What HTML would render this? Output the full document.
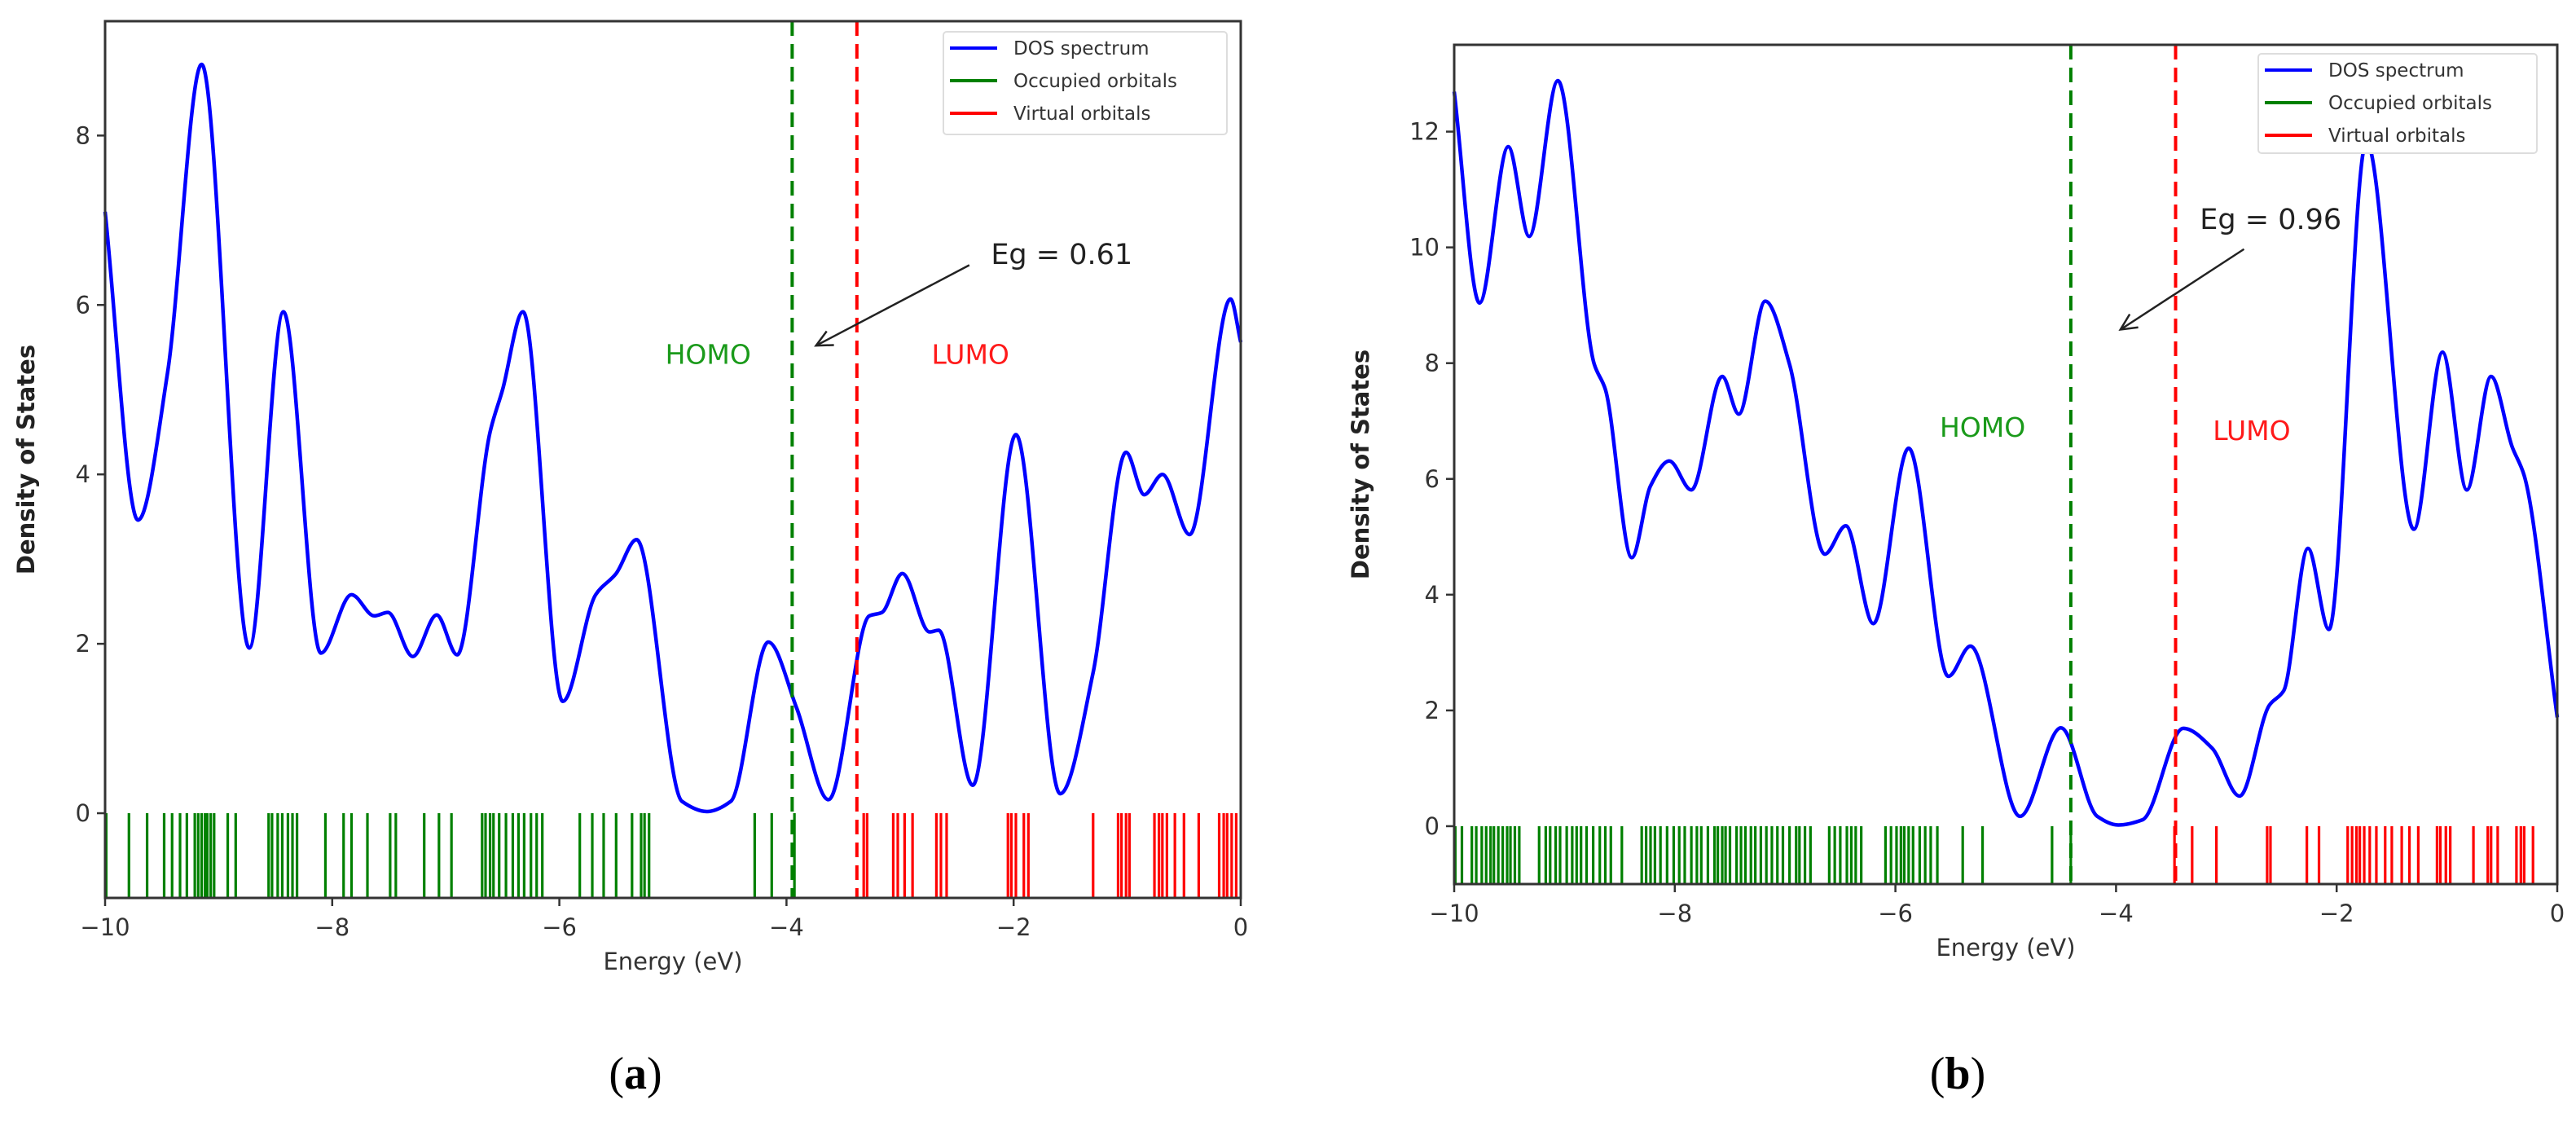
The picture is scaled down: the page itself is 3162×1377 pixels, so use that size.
<!DOCTYPE html>
<html><head><meta charset="utf-8"><style>
html,body{margin:0;padding:0;background:#fff;}
svg{display:block;font-family:"DejaVu Sans","Liberation Sans",sans-serif;}
</style></head><body>
<svg id="fig" width="3162" height="1377" viewBox="0 0 3162 1377" xmlns="http://www.w3.org/2000/svg"></svg>
<script>
// ---- Panel (a) data ----
const aCurveE = [-10,-9.71,-9.45,-9.15,-8.73,-8.43,-8.10,-7.83,-7.63,-7.51,-7.29,-7.08,-6.90,-6.61,-6.50,-6.32,-5.97,-5.68,-5.50,-5.32,-4.92,-4.70,-4.49,-4.16,-3.91,-3.63,-3.27,-3.16,-2.98,-2.74,-2.66,-2.36,-1.98,-1.59,-1.30,-1.01,-0.85,-0.69,-0.45,-0.09,0];
const aCurveD = [7.1,3.46,5.2,8.84,1.95,5.92,1.89,2.58,2.33,2.37,1.85,2.34,1.87,4.5,5.0,5.92,1.32,2.58,2.83,3.23,0.14,0.02,0.14,2.02,1.24,0.16,2.33,2.37,2.83,2.14,2.16,0.33,4.47,0.23,1.66,4.26,3.76,4.0,3.29,6.07,5.56];
const aOcc = [-9.99,-9.79,-9.63,-9.48,-9.41,-9.34,-9.28,-9.21,-9.18,-9.15,-9.12,-9.10,-9.07,-9.04,-8.92,-8.85,-8.56,-8.53,-8.48,-8.44,-8.39,-8.35,-8.31,-8.06,-7.90,-7.83,-7.69,-7.49,-7.44,-7.19,-7.06,-6.95,-6.68,-6.65,-6.61,-6.58,-6.53,-6.47,-6.41,-6.36,-6.31,-6.25,-6.20,-6.15,-5.82,-5.71,-5.61,-5.50,-5.36,-5.28,-5.25,-5.21,-4.28,-4.13,-3.93];
const aVir = [-3.32,-3.29,-3.06,-3.02,-2.96,-2.89,-2.68,-2.64,-2.59,-2.05,-2.02,-1.98,-1.91,-1.87,-1.30,-1.08,-1.05,-1.01,-0.98,-0.76,-0.72,-0.69,-0.65,-0.58,-0.50,-0.37,-0.19,-0.15,-0.12,-0.08,-0.04];
const aHomo = -3.95, aLumo = -3.38;
const aYTicks = [0,2,4,6,8];
const aEg = "Eg = 0.61";
// ---- Panel (b) data ----
const bCurveE = [-10,-9.77,-9.51,-9.32,-9.06,-8.73,-8.63,-8.39,-8.22,-8.05,-7.85,-7.57,-7.42,-7.18,-6.96,-6.64,-6.45,-6.20,-5.88,-5.52,-5.32,-4.87,-4.50,-4.17,-3.98,-3.76,-3.39,-3.13,-2.88,-2.61,-2.48,-2.26,-2.07,-1.73,-1.30,-1.04,-0.82,-0.60,-0.41,-0.30,0];
const bCurveD = [12.69,9.04,11.74,10.19,12.88,7.98,7.55,4.64,5.88,6.31,5.81,7.77,7.12,9.07,7.98,4.70,5.19,3.50,6.53,2.59,3.11,0.17,1.70,0.17,0.02,0.11,1.69,1.35,0.52,2.09,2.34,4.80,3.40,11.83,5.13,8.19,5.81,7.77,6.56,6.06,1.88];
const bOcc = [-9.99,-9.93,-9.84,-9.80,-9.75,-9.71,-9.67,-9.64,-9.60,-9.56,-9.52,-9.49,-9.45,-9.41,-9.23,-9.17,-9.13,-9.08,-9.04,-8.98,-8.93,-8.89,-8.85,-8.80,-8.74,-8.68,-8.63,-8.58,-8.48,-8.30,-8.26,-8.22,-8.18,-8.13,-8.07,-8.01,-7.96,-7.91,-7.85,-7.80,-7.76,-7.70,-7.64,-7.61,-7.57,-7.54,-7.50,-7.44,-7.40,-7.36,-7.31,-7.27,-7.22,-7.17,-7.12,-7.07,-7.02,-6.96,-6.90,-6.87,-6.82,-6.77,-6.60,-6.55,-6.50,-6.44,-6.40,-6.36,-6.31,-6.09,-6.04,-5.99,-5.95,-5.92,-5.88,-5.84,-5.78,-5.73,-5.68,-5.62,-5.39,-5.21,-4.58,-4.41];
const bVir = [-3.47,-3.31,-3.09,-2.63,-2.60,-2.27,-2.16,-1.90,-1.86,-1.82,-1.79,-1.75,-1.70,-1.64,-1.56,-1.50,-1.41,-1.34,-1.26,-1.09,-1.06,-1.01,-0.97,-0.76,-0.63,-0.60,-0.54,-0.37,-0.33,-0.30,-0.22];
const bHomo = -4.41, bLumo = -3.46;
const bYTicks = [0,2,4,6,8,10,12];
const bEg = "Eg = 0.96";
const xTicks = [-10,-8,-6,-4,-2,0];
const xTickLabels = ["\u221210","\u22128","\u22126","\u22124","\u22122","0"];

const NS = "http://www.w3.org/2000/svg";
const svg = document.getElementById('fig');
function mk(tag, attrs, parent, text){
  const e = document.createElementNS(NS, tag);
  for (const k in attrs) e.setAttribute(k, attrs[k]);
  if (text !== undefined) e.textContent = text;
  (parent || svg).appendChild(e);
  return e;
}
// monotone cubic (Fritsch-Carlson) path through screen points
function smoothPath(pts){
  const n = pts.length, dx=[], m=[], t=[];
  for (let i=0;i<n-1;i++){ dx[i]=pts[i+1][0]-pts[i][0]; m[i]=(pts[i+1][1]-pts[i][1])/dx[i]; }
  t[0]=m[0]; t[n-1]=m[n-2];
  for (let i=1;i<n-1;i++){
    if (m[i-1]*m[i] <= 0) t[i]=0;
    else { const w1=2*dx[i]+dx[i-1], w2=dx[i]+2*dx[i-1]; t[i]=(w1+w2)/(w1/m[i-1]+w2/m[i]); }
  }
  let d = `M${pts[0][0]},${pts[0][1]}`;
  for (let i=0;i<n-1;i++){
    const h = dx[i]/3;
    d += ` C${pts[i][0]+h},${pts[i][1]+t[i]*h} ${pts[i+1][0]-h},${pts[i+1][1]-t[i+1]*h} ${pts[i+1][0]},${pts[i+1][1]}`;
  }
  return d;
}
function panel(cfg){
  const g = mk('g', {});
  
  
  const X = e => cfg.L + (e - (-10)) / 10 * (cfg.R - cfg.L);
  const Y = v => cfg.B - (v - (-1)) / (cfg.ymax + 1) * (cfg.B - cfg.T);
  cfg.occ.forEach(e => {
    const l = mk('line', {x1:X(e),x2:X(e),y1:Y(0),y2:Y(-1),stroke:'#008000','stroke-width':3.2}, g);
    
    
  });
  cfg.vir.forEach(e => {
    const l = mk('line', {x1:X(e),x2:X(e),y1:Y(0),y2:Y(-1),stroke:'#ff0000','stroke-width':3.2}, g);
    
    
  });
  const pts = cfg.cE.map((e,i)=>[X(e),Y(cfg.cD[i])]);
  const c = mk('path', {d:smoothPath(pts),fill:'none',stroke:'#0000ff','stroke-width':4.5,'stroke-linejoin':'round'}, g);
  
  
  const h = mk('line', {x1:X(cfg.homo),x2:X(cfg.homo),y1:cfg.T,y2:cfg.B,stroke:'#008000','stroke-width':4,'stroke-dasharray':'18 10'}, g);
  
  
  const lu = mk('line', {x1:X(cfg.lumo),x2:X(cfg.lumo),y1:cfg.T,y2:cfg.B,stroke:'#ff0000','stroke-width':4,'stroke-dasharray':'18 10'}, g);
  
  
  const f = mk('rect', {x:cfg.L,y:cfg.T,width:cfg.R-cfg.L,height:cfg.B-cfg.T,fill:'none',stroke:'#333','stroke-width':3}, g);
  
  
  xTicks.forEach((t,i)=>{
    mk('line',{x1:X(t),x2:X(t),y1:cfg.B,y2:cfg.B+10,stroke:'#333','stroke-width':2.5},g);
    const tl = mk('text',{x:X(t),y:cfg.B+46,'text-anchor':'middle','font-size':29,fill:'#333'},g,xTickLabels[i]);
    
    
  });
  cfg.yt.forEach(t=>{
    mk('line',{x1:cfg.L-10,x2:cfg.L,y1:Y(t),y2:Y(t),stroke:'#333','stroke-width':2.5},g);
    const tl = mk('text',{x:cfg.L-18,y:Y(t)+10,'text-anchor':'end','font-size':29,fill:'#333'},g,String(t));
    
    
  });
  const xl = mk('text',{x:(cfg.L+cfg.R)/2,y:cfg.B+88,'text-anchor':'middle','font-size':29,fill:'#333'},g,'Energy (eV)');
  
  
  const yc = (cfg.T+cfg.B)/2;
  const yl = mk('text',{x:cfg.ylx,y:yc,'text-anchor':'middle','font-size':29,'font-weight':'bold',fill:'#222',transform:`rotate(-90 ${cfg.ylx} ${yc})`},g,'Density of States');
  
  
  const ho = mk('text',{x:X(cfg.homoT[0]),y:Y(cfg.homoT[1])+12,'text-anchor':'middle','font-size':33,fill:'#1a9a1a'},g,'HOMO');
  
  
  const lt = mk('text',{x:X(cfg.lumoT[0]),y:Y(cfg.lumoT[1])+12,'text-anchor':'middle','font-size':33,fill:'#ff1a1a'},g,'LUMO');
  
  
  const eg = mk('text',{x:X(cfg.egT[0]),y:Y(cfg.egT[1])+12,'font-size':35,fill:'#222'},g,cfg.eg);
  
  
  const x1=X(cfg.arr[0]),y1=Y(cfg.arr[1]),x2=X(cfg.arr[2]),y2=Y(cfg.arr[3]);
  const ar = mk('line',{x1,y1,x2,y2,stroke:'#222','stroke-width':2.5},g);
  
  
  const ang = Math.atan2(y2-y1,x2-x1), al=22;
  mk('polyline',{points:`${x2-al*Math.cos(ang-0.45)},${y2-al*Math.sin(ang-0.45)} ${x2},${y2} ${x2-al*Math.cos(ang+0.45)},${y2-al*Math.sin(ang+0.45)}`,fill:'none',stroke:'#222','stroke-width':2.5},g);
  const lg = mk('g',{},g);
  
  
  mk('rect',{x:cfg.lg[0],y:cfg.lg[1],width:cfg.lg[2],height:cfg.lg[3],fill:'#fff',stroke:'#ddd','stroke-width':2,rx:4},lg);
  [['DOS spectrum','#0000ff'],['Occupied orbitals','#008000'],['Virtual orbitals','#ff0000']].forEach((it,i)=>{
    const yy = cfg.lg[1]+20+i*40;
    const ln = mk('line',{x1:cfg.lg[0]+8,x2:cfg.lg[0]+66,y1:yy,y2:yy,stroke:it[1],'stroke-width':4},lg);
    
    
    const tx = mk('text',{x:cfg.lg[0]+86,y:yy+8,'font-size':23,fill:'#333'},lg,it[0]);
    
    
  });
  const cap = mk('text',{x:cfg.capX,y:1336,'text-anchor':'middle','font-size':56,fill:'#000','font-family':'"Liberation Serif",serif'},svg);
  
  
  mk('tspan',{},cap,'(');
  mk('tspan',{'font-weight':'bold'},cap,cfg.cap);
  mk('tspan',{},cap,')');
}
panel({name:'panel-a',L:129,R:1523,T:26,B:1102,ymax:9.35,cE:aCurveE,cD:aCurveD,occ:aOcc,vir:aVir,homo:aHomo,lumo:aLumo,yt:aYTicks,ylx:42,
  homoT:[-4.69,5.42],lumoT:[-2.38,5.42],egT:[-2.2,6.6],eg:aEg,arr:[-2.39,6.47,-3.74,5.52],lg:[1158,39,348,126],capX:780,cap:'a'});
panel({name:'panel-b',L:1785,R:3139,T:55,B:1085,ymax:13.5,cE:bCurveE,cD:bCurveD,occ:bOcc,vir:bVir,homo:bHomo,lumo:bLumo,yt:bYTicks,ylx:1680,
  homoT:[-5.21,6.9],lumoT:[-2.77,6.84],egT:[-3.24,10.49],eg:bEg,arr:[-2.84,9.97,-3.96,8.58],lg:[2772,66,342,122],capX:2403,cap:'b'});
</script>
</body></html>
